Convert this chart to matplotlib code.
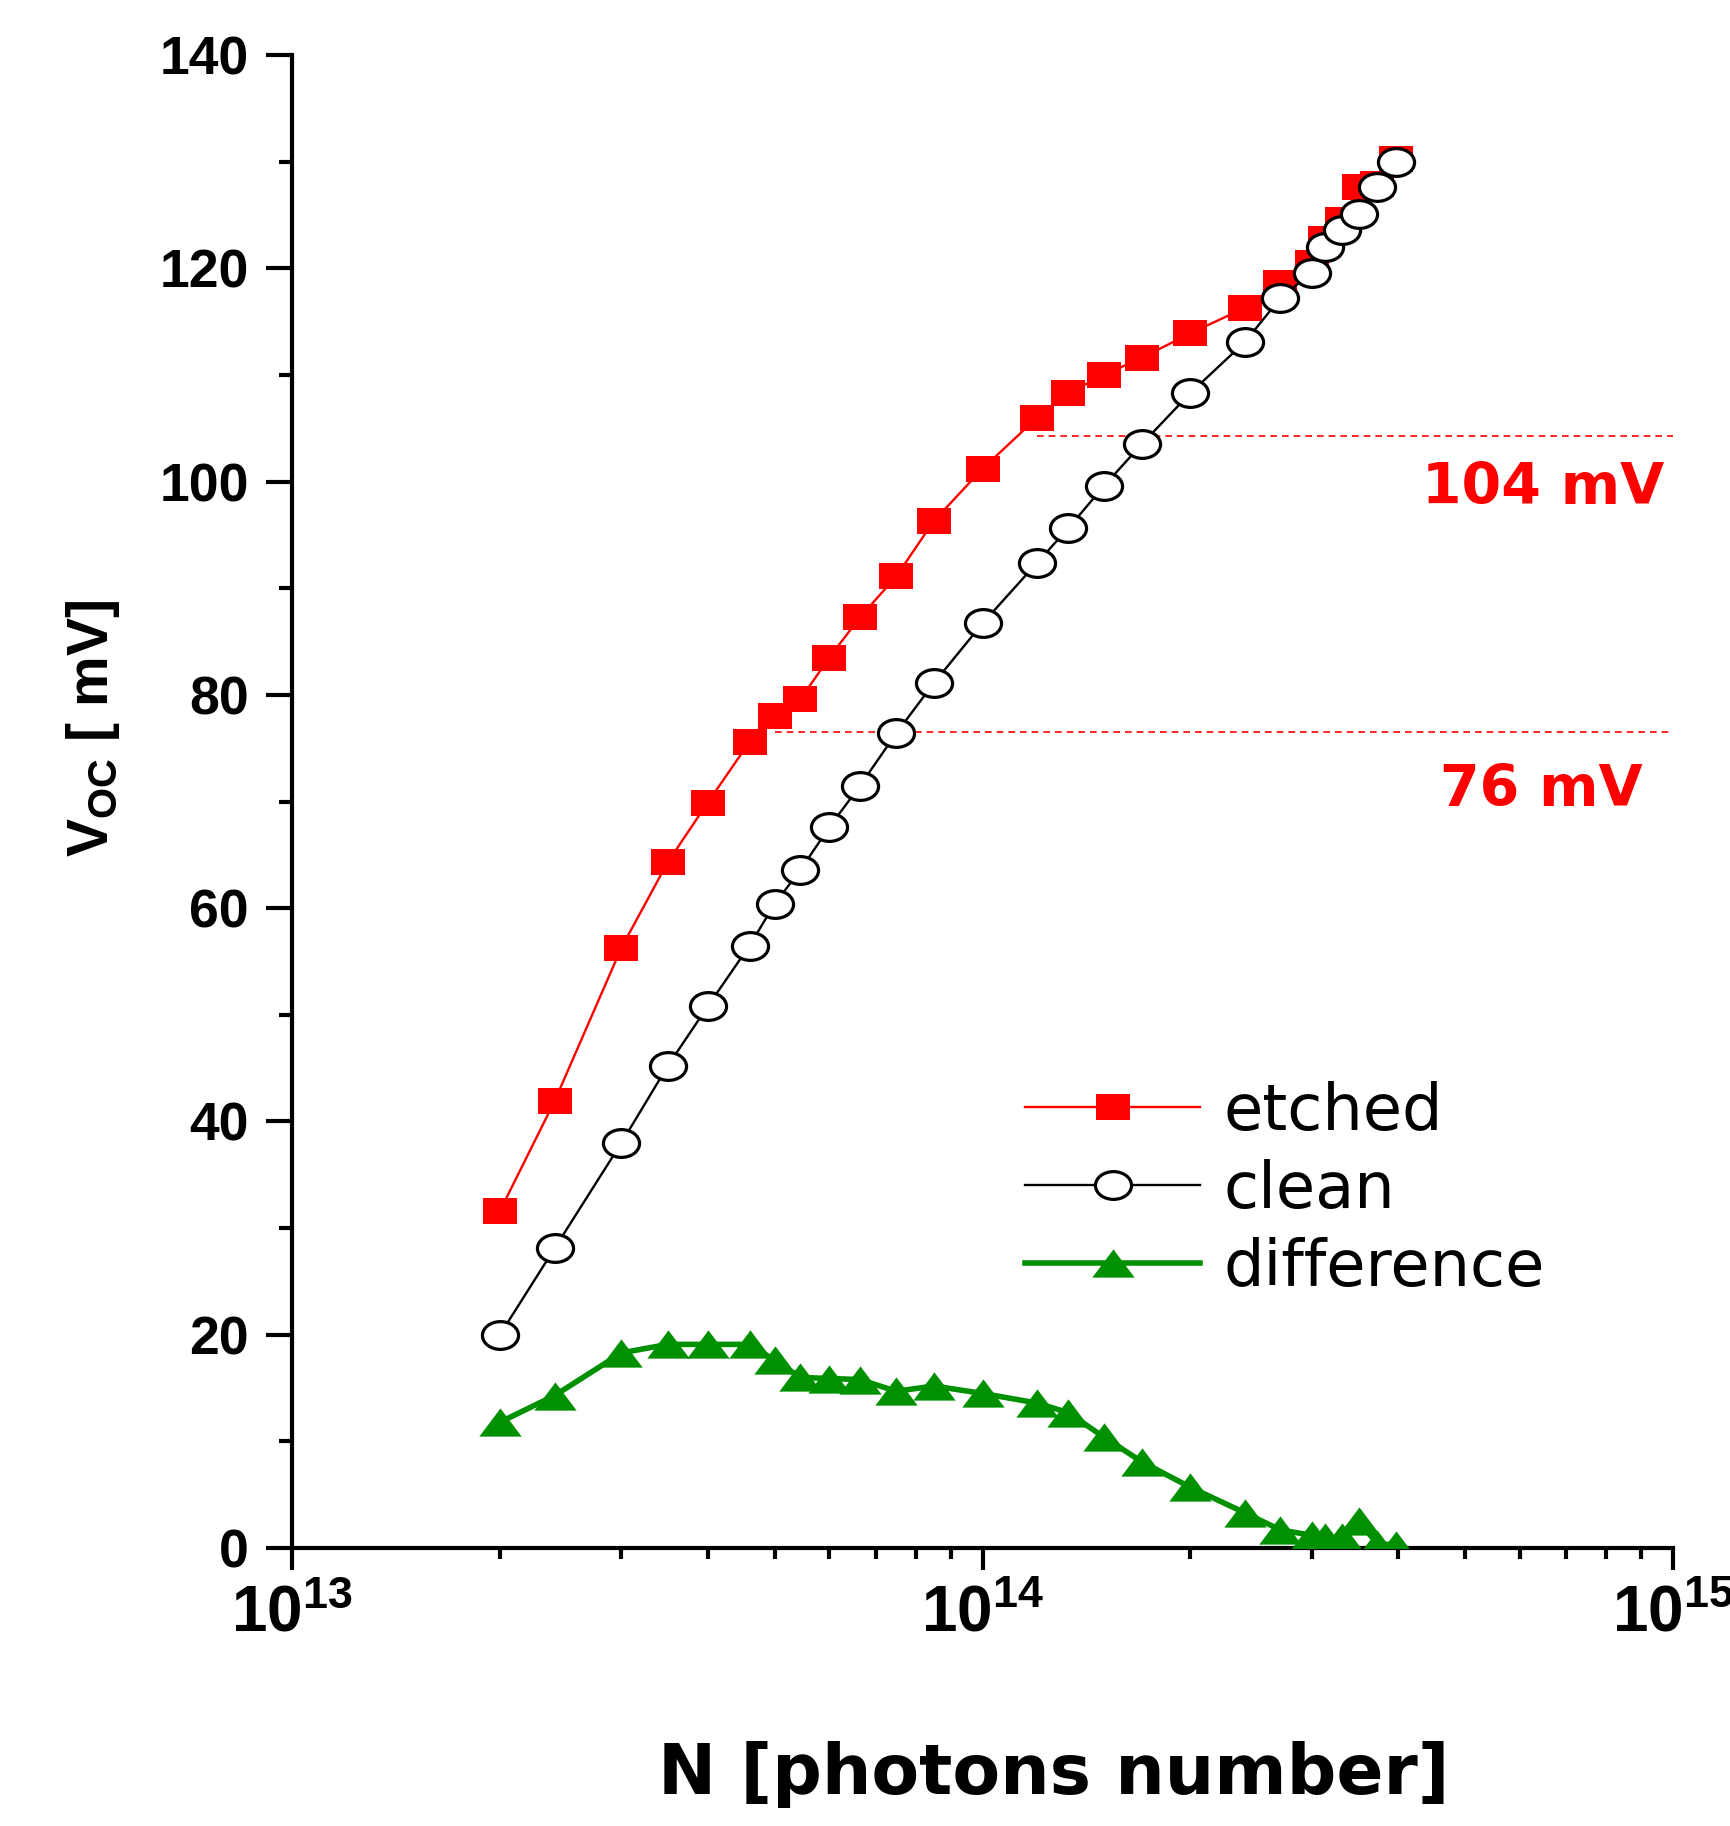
import matplotlib
matplotlib.use("Agg")
import matplotlib.pyplot as plt
from matplotlib.path import Path
from matplotlib.transforms import Affine2D
from matplotlib.ticker import FixedLocator, NullFormatter

plt.rcParams['font.family'] = ['Liberation Sans', 'DejaVu Sans']
plt.rcParams['mathtext.fontset'] = 'custom'
plt.rcParams['mathtext.rm'] = 'Liberation Sans:bold'
plt.rcParams['mathtext.bf'] = 'Liberation Sans:bold'
plt.rcParams['mathtext.it'] = 'Liberation Sans:bold'

# photon number (x) and Voc values in mV
photons = [2.0e13, 2.4e13, 3.0e13, 3.5e13, 4.0e13, 4.6e13, 5.0e13, 5.45e13, 6.0e13,
           6.65e13, 7.5e13, 8.5e13, 1.0e14, 1.2e14, 1.33e14, 1.5e14, 1.7e14, 2.0e14,
           2.4e14, 2.7e14, 3.0e14, 3.13e14, 3.32e14, 3.51e14, 3.73e14, 3.97e14]
etched = [31.6, 41.9, 56.3, 64.3, 69.9, 75.6, 78.0, 79.6, 83.5, 87.3, 91.1, 96.3, 101.2,
          106.0, 108.3, 110.0, 111.6, 113.9, 116.3, 118.6, 120.5, 122.7, 124.5, 127.6,
          127.9, 130.2]
clean = [20.0, 28.1, 38.0, 45.2, 50.8, 56.5, 60.4, 63.6, 67.6, 71.5, 76.4, 81.1, 86.7,
         92.4, 95.6, 99.6, 103.5, 108.3, 113.1, 117.2, 119.6, 122.0, 123.6, 125.1,
         127.6, 130.0]
difference = [11.8, 14.3, 18.3, 19.1, 19.1, 19.1, 17.6, 16.0, 15.9, 15.8, 14.7, 15.2, 14.5,
              13.6, 12.7, 10.4, 8.1, 5.7, 3.3, 1.7, 1.2, 1.0, 1.0, 2.5, 0.4, 0.3]

levels = [104.3, 76.5]
level_start = [1.2e14, 5.0e13]
level_text = ["104 mV", "76 mV"]

# markers in the original are stretched horizontally
ellipse = Path.unit_circle().transformed(Affine2D().scale(1.3, 1.0))
square = Path([(-1.3, -1), (1.3, -1), (1.3, 1), (-1.3, 1), (-1.3, -1)], closed=True)
triangle = Path([(-0.75, -0.5), (0.75, -0.5), (0, 0.5), (-0.75, -0.5)], closed=True)

red = '#ff0000'
green = '#009000'
wide = ['DejaVu Sans']

fig = plt.figure(figsize=(17.31, 18.26), dpi=100)
ax = fig.add_axes([0.1687, 0.1522, 0.9665 - 0.1687, 0.9699 - 0.1522])

ax.plot(photons, etched, color=red, lw=1.7, marker=square, ms=24.5,
        mfc=red, mec=red, mew=0, label='etched', zorder=3)
ax.plot(photons, clean, color='black', lw=1.7, marker=ellipse, ms=26,
        mfc='white', mec='black', mew=2.3, label='clean', zorder=4)
ax.plot(photons, difference, color=green, lw=4, marker=triangle, ms=30.5,
        mfc=green, mec=green, mew=0, label='difference', zorder=3)

for lv, st in zip(levels, level_start):
    ax.plot([st, 1e15], [lv, lv], color=red, lw=1.2, ls=(0, (4, 3)), zorder=2)

fig.text(1664 / 1731, 1 - 489 / 1826, level_text[0], color=red, fontsize=41,
         family=wide, fontweight='bold', ha='right', va='center')
fig.text(1643 / 1731, 1 - 790 / 1826, level_text[1], color=red, fontsize=41,
         family=wide, fontweight='bold', ha='right', va='center')

ax.set_xscale('log')
ax.set_xlim(1e13, 1e15)
ax.set_ylim(0, 140)

ax.xaxis.set_major_locator(FixedLocator([1e13, 1e14, 1e15]))
ax.set_xticklabels([r'$\mathbf{10^{13}}$', r'$\mathbf{10^{14}}$', r'$\mathbf{10^{15}}$'],
                   fontsize=46)
minors = [m * 10 ** e for e in (13, 14) for m in range(2, 10)]
ax.xaxis.set_minor_locator(FixedLocator(minors))
ax.xaxis.set_minor_formatter(NullFormatter())

ax.set_yticks(range(0, 141, 20))
ax.set_yticklabels([str(v) for v in range(0, 141, 20)], fontsize=38.5, fontweight='bold')
ax.yaxis.set_minor_locator(FixedLocator(range(10, 140, 20)))

ax.tick_params(axis='x', which='major', direction='out', length=16, width=3, pad=10)
ax.tick_params(axis='x', which='minor', direction='out', length=8, width=3)
ax.tick_params(axis='y', which='major', direction='out', length=19, width=3, pad=12)
ax.tick_params(axis='y', which='minor', direction='out', length=9.5, width=3)

for s in ['top', 'right']:
    ax.spines[s].set_visible(False)
for s in ['left', 'bottom']:
    ax.spines[s].set_linewidth(3)

fig.text(1054 / 1731, 1 - 1774 / 1826, 'N [photons number]', fontsize=50,
         family=wide, fontweight='bold', ha='center', va='center')
fig.text(93 / 1731, 1 - 728 / 1826, r'$\mathbf{V_{OC}}$ [ mV]', fontsize=41,
         fontweight='bold', ha='center', va='center', rotation=90)

ax.legend(loc='center left', bbox_to_anchor=(0.531, 0.24), frameon=False,
          prop={'family': wide, 'size': 46}, handlelength=2.74, handletextpad=0.36,
          labelspacing=0.25, borderpad=0, borderaxespad=0)

fig.savefig('out.png', dpi=100)
